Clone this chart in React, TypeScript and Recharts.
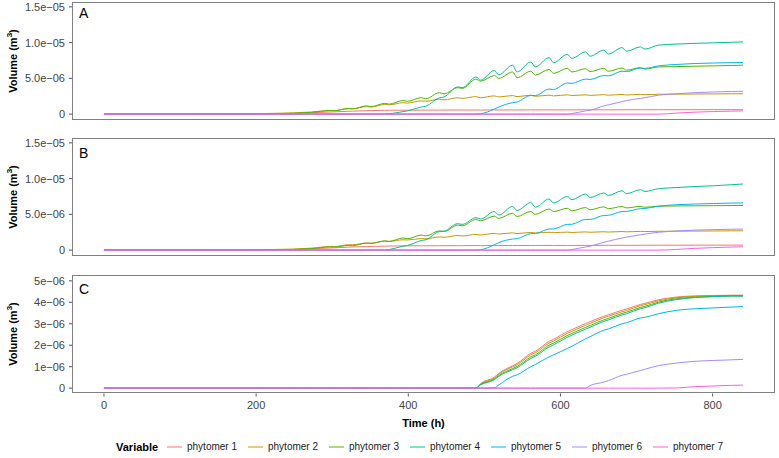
import React from 'react'
import { LineChart, Line, XAxis, YAxis } from 'recharts'

// time grid (h): sparse early, then peak / trough pairs of the daily cycle
const hours = [0, 100, 200, 249, 273, 297, 303, 321, 327, 345, 351, 369, 375, 393, 399, 417, 423, 441, 447, 465, 471, 489, 495, 513, 519, 537, 543, 561, 567, 585, 591, 609, 615, 633, 639, 657, 663, 681, 687, 705, 711, 729, 753, 777, 801, 825, 840]

const seriesNames = ['phytomer 1', 'phytomer 2', 'phytomer 3', 'phytomer 4', 'phytomer 5', 'phytomer 6', 'phytomer 7']
const seriesColors = ['#F8766D', '#C49A00', '#53B400', '#00C094', '#00B6EB', '#A58AFF', '#FB61D7']

// volumes in 1e-06 m3
// panel A
const a1 = [0, 0, 0.02, 0.08, 0.2, 0.3, 0.32, 0.4, 0.42, 0.48, 0.5, 0.53, 0.54, 0.55, 0.55, 0.56, 0.56, 0.57, 0.57, 0.58, 0.57, 0.58, 0.57, 0.59, 0.58, 0.59, 0.58, 0.6, 0.59, 0.6, 0.59, 0.6, 0.6, 0.61, 0.6, 0.61, 0.6, 0.61, 0.61, 0.62, 0.61, 0.62, 0.62, 0.62, 0.63, 0.63, 0.63]
const a2 = [0, 0.01, 0.08, 0.18, 0.3, 0.5, 0.5, 0.75, 0.75, 1.05, 1.0, 1.35, 1.3, 1.6, 1.55, 1.85, 1.8, 2.1, 2.0, 2.3, 2.2, 2.45, 2.3, 2.55, 2.4, 2.6, 2.45, 2.65, 2.5, 2.65, 2.55, 2.7, 2.6, 2.7, 2.62, 2.72, 2.65, 2.75, 2.68, 2.77, 2.72, 2.78, 2.8, 2.82, 2.83, 2.85, 2.85]
const a3 = [0, 0, 0.03, 0.12, 0.25, 0.5, 0.48, 0.8, 0.75, 1.15, 1.05, 1.5, 1.4, 1.9, 1.8, 2.3, 2.15, 3.0, 2.85, 3.7, 3.6, 4.9, 4.6, 5.4, 5.0, 5.9, 5.1, 6.0, 5.45, 6.25, 5.7, 6.4, 5.9, 6.35, 5.95, 6.4, 6.0, 6.45, 6.15, 6.5, 6.3, 6.6, 6.65, 6.7, 6.75, 6.8, 6.85]
const a4 = [0, 0, 0, 0, 0, 0, 0, 0, 0, 0, 0, 0, 0.05, 0.35, 0.45, 1.0, 1.1, 2.3, 2.4, 3.8, 3.7, 5.2, 4.75, 6.1, 5.5, 6.85, 5.9, 7.3, 6.6, 7.9, 7.2, 8.35, 7.8, 8.7, 8.1, 8.95, 8.4, 9.3, 8.8, 9.4, 9.1, 9.65, 9.8, 9.9, 9.97, 10.05, 10.1]
const a5 = [0, 0, 0, 0, 0, 0, 0, 0, 0, 0, 0, 0, 0, 0, 0, 0, 0, 0, 0, 0, 0, 0, 0.05, 0.7, 1.0, 1.6, 1.7, 2.6, 2.6, 3.5, 3.45, 4.35, 4.3, 4.9, 4.85, 5.4, 5.35, 6.0, 5.95, 6.45, 6.4, 6.75, 6.95, 7.08, 7.15, 7.2, 7.22]
const a6 = [0, 0, 0, 0, 0, 0, 0, 0, 0, 0, 0, 0, 0, 0, 0, 0, 0, 0, 0, 0, 0, 0, 0, 0, 0, 0, 0, 0, 0, 0, 0, 0, 0.08, 0.45, 0.55, 1.15, 1.3, 1.75, 1.9, 2.2, 2.3, 2.65, 2.85, 3.0, 3.1, 3.17, 3.2]
const a7 = [0, 0, 0, 0, 0, 0, 0, 0, 0, 0, 0, 0, 0, 0, 0, 0, 0, 0, 0, 0, 0, 0, 0, 0, 0, 0, 0, 0, 0, 0, 0, 0, 0, 0, 0, 0, 0, 0, 0, 0, 0, 0, 0.15, 0.28, 0.36, 0.42, 0.45]

// panel B
const b1 = [0, 0, 0.02, 0.08, 0.2, 0.3, 0.32, 0.42, 0.44, 0.5, 0.52, 0.56, 0.57, 0.6, 0.6, 0.61, 0.61, 0.62, 0.62, 0.63, 0.62, 0.64, 0.63, 0.64, 0.64, 0.65, 0.64, 0.65, 0.65, 0.66, 0.65, 0.66, 0.66, 0.67, 0.66, 0.67, 0.67, 0.68, 0.67, 0.68, 0.68, 0.69, 0.69, 0.7, 0.7, 0.7, 0.7]
const b2 = [0, 0.01, 0.07, 0.15, 0.28, 0.5, 0.5, 0.75, 0.75, 1.0, 0.98, 1.25, 1.22, 1.45, 1.42, 1.62, 1.58, 1.85, 1.8, 2.05, 1.98, 2.2, 2.12, 2.35, 2.25, 2.42, 2.32, 2.48, 2.4, 2.5, 2.44, 2.52, 2.47, 2.55, 2.5, 2.57, 2.53, 2.6, 2.56, 2.62, 2.6, 2.63, 2.65, 2.67, 2.68, 2.7, 2.7]
const b3 = [0, 0, 0.03, 0.1, 0.22, 0.45, 0.43, 0.65, 0.62, 0.98, 0.92, 1.3, 1.22, 1.7, 1.6, 2.1, 2.0, 2.7, 2.6, 3.5, 3.4, 4.3, 4.1, 4.75, 4.45, 5.15, 4.7, 5.4, 5.0, 5.75, 5.4, 5.85, 5.5, 5.95, 5.65, 6.05, 5.8, 6.1, 5.9, 6.12, 6.0, 6.15, 6.18, 6.2, 6.22, 6.24, 6.25]
const b4 = [0, 0, 0, 0, 0, 0, 0, 0, 0, 0, 0, 0, 0.08, 0.55, 0.65, 1.35, 1.45, 2.6, 2.65, 3.7, 3.6, 4.55, 4.35, 5.4, 4.9, 6.1, 5.55, 6.65, 6.0, 7.15, 6.6, 7.5, 7.05, 7.85, 7.35, 8.0, 7.65, 8.3, 7.9, 8.45, 8.2, 8.6, 8.75, 8.9, 9.0, 9.15, 9.25]
const b5 = [0, 0, 0, 0, 0, 0, 0, 0, 0, 0, 0, 0, 0, 0, 0, 0, 0, 0, 0, 0, 0, 0, 0.05, 0.75, 1.05, 1.55, 1.6, 2.3, 2.32, 2.95, 2.97, 3.6, 3.62, 4.3, 4.3, 4.85, 4.87, 5.4, 5.42, 5.8, 5.82, 6.15, 6.35, 6.45, 6.52, 6.58, 6.6]
const b6 = [0, 0, 0, 0, 0, 0, 0, 0, 0, 0, 0, 0, 0, 0, 0, 0, 0, 0, 0, 0, 0, 0, 0, 0, 0, 0, 0, 0, 0, 0, 0, 0, 0.08, 0.45, 0.55, 1.1, 1.25, 1.7, 1.82, 2.15, 2.25, 2.5, 2.68, 2.8, 2.87, 2.92, 2.95]
const b7 = [0, 0, 0, 0, 0, 0, 0, 0, 0, 0, 0, 0, 0, 0, 0, 0, 0, 0, 0, 0, 0, 0, 0, 0, 0, 0, 0, 0, 0, 0, 0, 0, 0, 0, 0, 0, 0, 0, 0, 0, 0, 0, 0.1, 0.25, 0.35, 0.43, 0.47]

// panel C
const c1 = [0, 0, 0, 0, 0, 0, 0, 0, 0, 0, 0, 0, 0, 0, 0, 0, 0, 0, 0, 0, 0, 0, 0.21, 0.51, 0.69, 1.04, 1.15, 1.62, 1.72, 2.18, 2.28, 2.63, 2.73, 3.01, 3.1, 3.35, 3.42, 3.63, 3.69, 3.9, 3.95, 4.12, 4.25, 4.3, 4.32, 4.33, 4.33]
const c2 = [0, 0, 0, 0, 0, 0, 0, 0, 0, 0, 0, 0, 0, 0, 0, 0, 0, 0, 0, 0, 0, 0, 0.19, 0.47, 0.65, 0.99, 1.09, 1.55, 1.65, 2.1, 2.2, 2.55, 2.65, 2.93, 3.02, 3.28, 3.35, 3.56, 3.62, 3.84, 3.89, 4.07, 4.21, 4.28, 4.3, 4.32, 4.32]
const c3 = [0, 0, 0, 0, 0, 0, 0, 0, 0, 0, 0, 0, 0, 0, 0, 0, 0, 0, 0, 0, 0, 0, 0.17, 0.43, 0.59, 0.91, 1.01, 1.45, 1.55, 2.0, 2.1, 2.45, 2.55, 2.83, 2.92, 3.18, 3.25, 3.48, 3.54, 3.76, 3.81, 4.01, 4.17, 4.24, 4.28, 4.3, 4.3]
const c4 = [0, 0, 0, 0, 0, 0, 0, 0, 0, 0, 0, 0, 0, 0, 0, 0, 0, 0, 0, 0, 0, 0, 0.15, 0.39, 0.55, 0.86, 0.95, 1.38, 1.48, 1.92, 2.02, 2.37, 2.47, 2.75, 2.84, 3.11, 3.18, 3.41, 3.47, 3.7, 3.75, 3.96, 4.13, 4.22, 4.26, 4.29, 4.29]
const c5 = [0, 0, 0, 0, 0, 0, 0, 0, 0, 0, 0, 0, 0, 0, 0, 0, 0, 0, 0, 0, 0, 0, 0, 0.02, 0.15, 0.55, 0.62, 1.0, 1.1, 1.46, 1.55, 1.85, 1.95, 2.3, 2.4, 2.7, 2.76, 3.0, 3.05, 3.27, 3.3, 3.47, 3.63, 3.7, 3.74, 3.78, 3.8]
const c6 = [0, 0, 0, 0, 0, 0, 0, 0, 0, 0, 0, 0, 0, 0, 0, 0, 0, 0, 0, 0, 0, 0, 0, 0, 0, 0, 0, 0, 0, 0, 0, 0, 0, 0, 0.12, 0.28, 0.35, 0.6, 0.65, 0.82, 0.88, 1.05, 1.17, 1.25, 1.29, 1.32, 1.34]
const c7 = [0, 0, 0, 0, 0, 0, 0, 0, 0, 0, 0, 0, 0, 0, 0, 0, 0, 0, 0, 0, 0, 0, 0, 0, 0, 0, 0, 0, 0, 0, 0, 0, 0, 0, 0, 0, 0, 0, 0, 0, 0, 0, 0.01, 0.07, 0.1, 0.13, 0.14]

const xTicks = [0, 200, 400, 600, 800]
const yTicksAB = [0, 5, 10, 15]
const yLabelsAB = ['0', '5.0e\u221206', '1.0e\u221205', '1.5e\u221205']
const yTicksC = [0, 1, 2, 3, 4, 5]
const yLabelsC = ['0', '1e\u221206', '2e\u221206', '3e\u221206', '4e\u221206', '5e\u221206']

const FONT = '"Liberation Sans", Arial, Helvetica, sans-serif'

interface PanelProps {
  top: number
  letter: string
  letterTop: number
  series: number[][]
  yTicks: number[]
  yLabels: string[]
  yMax: number
  showX?: boolean
}

function Panel({ top, letter, letterTop, series, yTicks, yLabels, yMax, showX = false }: PanelProps) {
  const rows = hours.map((t, i) => {
    const row: Record<string, number> = { t }
    series.forEach((s, k) => {
      row['p' + (k + 1)] = s[i]
    })
    return row
  })
  const pad = yMax * 0.05
  const chartH = showX ? 150 : 130
  const xH = showX ? 30.5 : 10.5

  return (
    <div style={{ position: 'absolute', left: 0, top, width: 779, height: chartH }}>
      <LineChart width={779} height={chartH} data={rows} margin={{ top: 1.5, right: 4, bottom: 0, left: 0 }}>
        <XAxis
          dataKey="t"
          type="number"
          domain={[-42, 882]}
          ticks={xTicks}
          interval={0}
          allowDataOverflow
          height={xH}
          axisLine={false}
          tickLine={{ stroke: '#555' }}
          tickSize={3}
          tickMargin={5}
          tick={showX ? { fill: '#444', fontSize: 11 } : false}
        />
        <YAxis
          type="number"
          domain={[-pad, yMax + pad]}
          ticks={yTicks}
          interval={0}
          allowDataOverflow
          width={72}
          axisLine={false}
          tickLine={{ stroke: '#555' }}
          tickSize={3}
          tickMargin={4}
          tick={{ fill: '#444', fontSize: 11 }}
          tickFormatter={(v: number) => yLabels[yTicks.indexOf(v)] ?? ''}
        />
        {series.map((_, k) => (
          <Line
            key={k}
            type="monotone"
            dataKey={'p' + (k + 1)}
            name={seriesNames[k]}
            stroke={seriesColors[k]}
            strokeWidth={1}
            dot={false}
            isAnimationActive={false}
          />
        ))}
      </LineChart>
      <div
        style={{
          position: 'absolute',
          left: 72,
          top: 1.5,
          width: 703,
          height: 118,
          border: '1px solid #808080',
          boxSizing: 'border-box',
          pointerEvents: 'none'
        }}
      />
      <div style={{ position: 'absolute', left: 79, top: letterTop, fontSize: 14, lineHeight: '14px', color: '#000' }}>
        {letter}
      </div>
      <div
        style={{
          position: 'absolute',
          left: 13,
          top: 60.5,
          transform: 'translate(-50%, -50%) rotate(-90deg)',
          fontSize: 11,
          fontWeight: 'bold',
          whiteSpace: 'nowrap',
          color: '#000'
        }}
      >
        Volume (m<sup style={{ fontSize: 8, verticalAlign: 'super', lineHeight: 0 }}>3</sup>)
      </div>
    </div>
  )
}

export default function App() {
  return (
    <div style={{ position: 'absolute', left: 0, top: 0, width: 779, height: 458, background: '#fff', fontFamily: FONT }}>
      <Panel top={0} letter="A" letterTop={5.5} series={[a1, a2, a3, a4, a5, a6, a7]} yTicks={yTicksAB} yLabels={yLabelsAB} yMax={15} />
      <Panel top={136} letter="B" letterTop={10} series={[b1, b2, b3, b4, b5, b6, b7]} yTicks={yTicksAB} yLabels={yLabelsAB} yMax={15} />
      <Panel top={273.5} letter="C" letterTop={8.5} series={[c1, c2, c3, c4, c5, c6, c7]} yTicks={yTicksC} yLabels={yLabelsC} yMax={5} showX />
      <div
        style={{
          position: 'absolute',
          left: 423.5,
          top: 423,
          transform: 'translate(-50%, -50%)',
          fontSize: 11,
          fontWeight: 'bold',
          whiteSpace: 'nowrap'
        }}
      >
        Time (h)
      </div>
      <div style={{ position: 'absolute', left: 116, top: 440, height: 14, lineHeight: '14px', fontSize: 11, fontWeight: 'bold' }}>
        Variable
      </div>
      {seriesNames.map((name, k) => (
        <div
          key={name}
          style={{ position: 'absolute', left: 167 + 81 * k, top: 440, height: 14, display: 'flex', alignItems: 'center' }}
        >
          <div style={{ width: 15, height: 2, background: seriesColors[k], opacity: 0.5 }} />
          <div style={{ marginLeft: 5, fontSize: 10, lineHeight: '14px', color: '#1a1a1a', whiteSpace: 'nowrap' }}>{name}</div>
        </div>
      ))}
    </div>
  )
}
